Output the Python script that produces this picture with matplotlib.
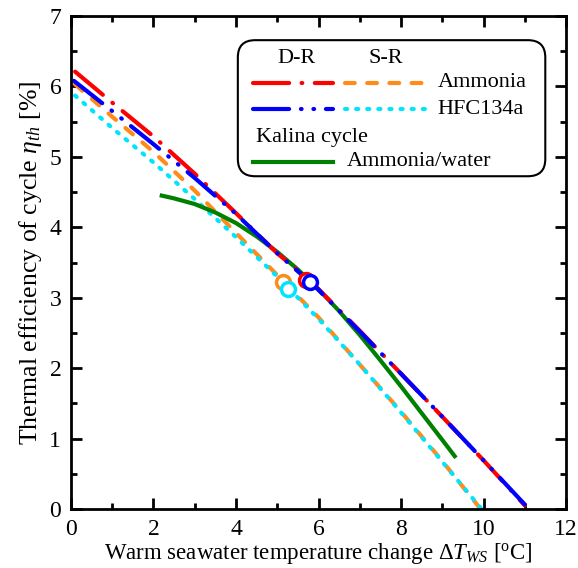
import matplotlib
matplotlib.use("Agg")
from matplotlib import pyplot as plt
from matplotlib.patches import FancyBboxPatch
from matplotlib.ticker import MultipleLocator

plt.rcParams['font.family'] = ['Liberation Serif', 'DejaVu Serif']
plt.rcParams['mathtext.fontset'] = 'custom'
plt.rcParams['mathtext.rm'] = 'Liberation Serif'
plt.rcParams['mathtext.it'] = 'Liberation Serif:italic'
plt.rcParams['lines.scale_dashes'] = False

# D-R ammonia
dr_nh3_x = [0.1, 1, 2, 3, 4, 5, 5.8, 6, 7, 8, 9, 10, 11]
dr_nh3_y = [6.21, 5.77, 5.29, 4.76, 4.2, 3.63, 3.24, 3.12, 2.53, 1.92, 1.31, 0.69, 0.05]
# D-R HFC134a
dr_hfc_x = [0.07, 1, 2, 3, 4, 5, 5.8, 6, 7, 8, 9, 10, 11.02]
dr_hfc_y = [6.08, 5.65, 5.18, 4.7, 4.19, 3.63, 3.22, 3.11, 2.52, 1.92, 1.31, 0.69, 0.05]
# S-R ammonia
sr_nh3_x = [0.1, 1, 2, 3, 4, 5, 6, 7, 8, 9, 9.9]
sr_nh3_y = [6.03, 5.57, 5.07, 4.52, 3.92, 3.32, 2.72, 2.05, 1.38, 0.68, 0.02]
# S-R HFC134a
sr_hfc_x = [0.1, 1, 2, 3, 4, 5, 6, 7, 8, 9, 9.95]
sr_hfc_y = [5.87, 5.41, 4.92, 4.40, 3.86, 3.30, 2.70, 2.05, 1.37, 0.67, 0.0]
# Kalina ammonia/water
kalina_x = [2.2, 2.5, 3, 3.5, 4, 4.5, 5, 5.5, 6, 6.5, 7, 7.5, 8, 8.5, 9, 9.3]
kalina_y = [4.45, 4.41, 4.33, 4.21, 4.06, 3.87, 3.65, 3.40, 3.12, 2.81, 2.47, 2.11, 1.74, 1.36, 0.98, 0.75]

# marked design points
pt_dr_nh3 = (5.7, 3.25)
pt_dr_hfc = (5.8, 3.22)
pt_sr_nh3 = (5.15, 3.23)
pt_sr_hfc = (5.25, 3.13)

c_red = '#ff0000'
c_blue = '#0000ff'
c_orange = '#ff8c1a'
c_cyan = '#00e5ff'
c_green = '#008000'

st_red = dict(color=c_red, lw=3, dashes=(26, 9, 0.5, 9), dash_capstyle='round')
st_blue = dict(color=c_blue, lw=3, dashes=(26, 8.5, 0.5, 8.5, 0.5, 8.5), dash_capstyle='round')
st_orange = dict(color=c_orange, lw=3, dashes=(7, 9), dash_capstyle='round')
st_cyan = dict(color=c_cyan, lw=3, dashes=(1.5, 6.5), dash_capstyle='round')
st_green = dict(color=c_green, lw=3)

fig = plt.figure(figsize=(5.78, 5.68), dpi=100)
ax = fig.add_axes([0.1228, 0.1039, 0.8566, 0.8679])

ax.plot(sr_nh3_x, sr_nh3_y, **st_orange)
ax.plot(sr_hfc_x, sr_hfc_y, **st_cyan)
ax.plot(kalina_x, kalina_y, **st_green)
ax.plot(dr_nh3_x, dr_nh3_y, **st_red)
ax.plot(dr_hfc_x, dr_hfc_y, **st_blue)

mk = dict(marker='o', ms=10, mfc='white', mew=2.5, ls='none')
ax.plot(*pt_sr_nh3, mec=c_orange, **mk)
ax.plot(*pt_sr_hfc, mec=c_cyan, **mk)
ax.plot(*pt_dr_nh3, mec=c_red, **mk)
ax.plot(*pt_dr_hfc, mec=c_blue, **mk)

ax.set_xlim(0, 12)
ax.set_ylim(0, 7)
ax.xaxis.set_major_locator(MultipleLocator(2))
ax.xaxis.set_minor_locator(MultipleLocator(1))
ax.yaxis.set_major_locator(MultipleLocator(1))
ax.yaxis.set_minor_locator(MultipleLocator(0.5))
ax.tick_params(which='both', direction='in', top=True, right=True, width=2, labelsize=17, pad=7)
ax.tick_params(which='major', length=8)
ax.tick_params(which='minor', length=4.5)
for s in ax.spines.values():
    s.set_linewidth(2)

ax.set_xlabel(r'Warm seawater temperature change $\Delta T_{WS}$ [$^{\rm o}$C]', fontsize=16.5, labelpad=1)
ax.set_ylabel(r'Thermal efficiency of cycle $\eta_{th}$ [%]', fontsize=18.5, labelpad=4)

# hand-built legend box
tr = ax.transAxes
box = FancyBboxPatch((0.337, 0.675), 0.621, 0.276, boxstyle='round,pad=0,rounding_size=0.035',
                     transform=tr, fc='white', ec='black', lw=1.5, zorder=5)
ax.add_patch(box)
fs = 16
ax.text(0.455, 0.913, 'D-R', transform=tr, ha='center', va='center', fontsize=fs, zorder=6)
ax.text(0.636, 0.913, 'S-R', transform=tr, ha='center', va='center', fontsize=fs, zorder=6)
ax.plot([0.368, 0.529], [0.865, 0.865], transform=tr, zorder=6, **st_red)
ax.plot([0.554, 0.719], [0.865, 0.865], transform=tr, zorder=6, **st_orange)
ax.text(0.741, 0.865, 'Ammonia', transform=tr, va='center', fontsize=fs, zorder=6)
ax.plot([0.368, 0.529], [0.811, 0.811], transform=tr, zorder=6, **st_blue)
ax.plot([0.554, 0.719], [0.811, 0.811], transform=tr, zorder=6, **st_cyan)
ax.text(0.741, 0.811, 'HFC134a', transform=tr, va='center', fontsize=fs, zorder=6)
ax.text(0.374, 0.753, 'Kalina cycle', transform=tr, va='center', fontsize=fs, zorder=6)
ax.plot([0.368, 0.529], [0.704, 0.704], transform=tr, zorder=6, **st_green)
ax.text(0.558, 0.704, 'Ammonia/water', transform=tr, va='center', fontsize=fs, zorder=6)

fig.savefig('out.png', dpi=100)
